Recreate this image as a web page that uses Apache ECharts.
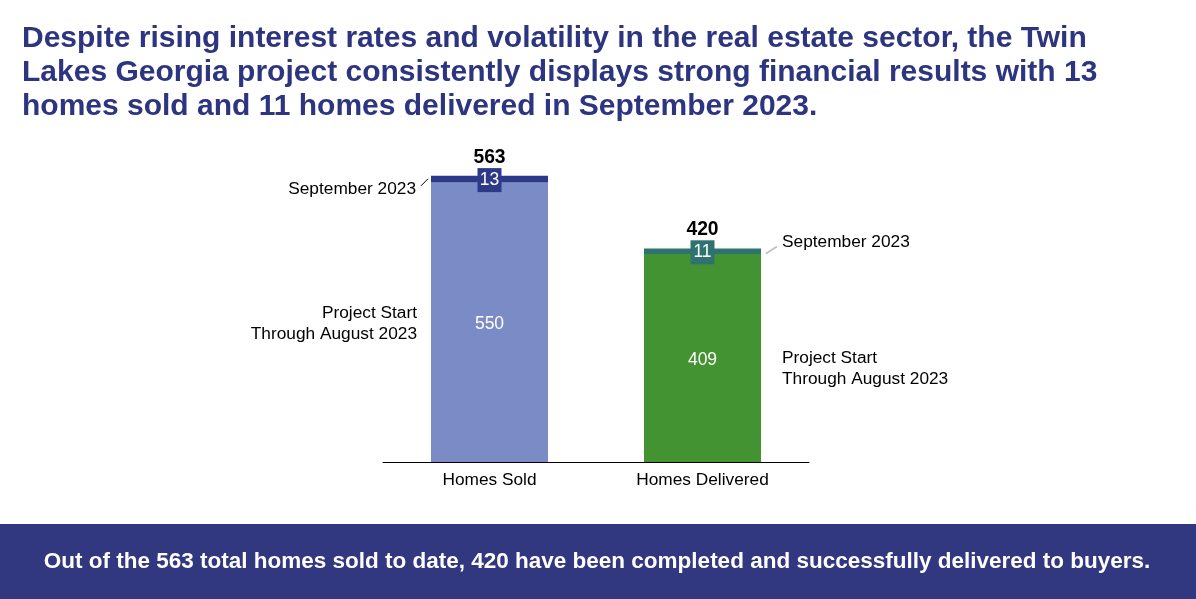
<!DOCTYPE html>
<html><head><meta charset="utf-8">
<script src="https://cdn.jsdelivr.net/npm/echarts@6/dist/echarts.min.js"></script>
<style>html,body{margin:0;padding:0;background:#fff}#c{width:1196px;height:599px}</style>
</head><body><div id="c"></div>
<script>
const categories = ['Homes Sold', 'Homes Delivered'];
const throughAugust = [550, 409];
const september = [13, 11];
const seriesNames = ['Project Start\nThrough August 2023', 'September 2023'];
const titleText = 'Despite rising interest rates and volatility in the real estate sector, the Twin\nLakes Georgia project consistently displays strong financial results with 13\nhomes sold and 11 homes delivered in September 2023.';
const footerText = 'Out of the 563 total homes sold to date, 420 have been completed and successfully delivered to buyers.';

const baseColors = ['#7B8BC6', '#449333'];
const topColors = ['#2E3A87', '#2E7370'];
const totals = throughAugust.map((v, i) => v + september[i]);
const FONT = '"Liberation Sans", Arial, sans-serif';
const FS = 17.3;

const chart = echarts.init(document.getElementById('c'));
const option = {
  animation: false,
  textStyle: { fontFamily: FONT },
  title: {
    text: titleText, left: 17, top: 17,
    textStyle: { fontFamily: FONT, fontSize: 30, fontWeight: 'bold', color: '#2E3580', lineHeight: 34 }
  },
  grid: { left: 383, right: 387, top: 157, bottom: 137 },
  xAxis: {
    type: 'category', data: categories,
    axisLine: { lineStyle: { color: '#000', width: 1 } },
    axisTick: { show: false },
    axisLabel: { color: '#000', fontSize: FS, margin: 10, fontFamily: FONT }
  },
  yAxis: { type: 'value', min: 0, max: 600, show: false, splitLine: { show: false } },
  series: [
    {
      name: seriesNames[0], type: 'bar', stack: 't', barWidth: 117,
      data: throughAugust.map((v, i) => ({ value: v, itemStyle: { color: baseColors[i] } })),
      label: { show: true, position: 'inside', color: '#fff', fontSize: 17.5, fontFamily: FONT, offset: [0, 2] }
    },
    {
      name: seriesNames[1], type: 'bar', stack: 't', barWidth: 117,
      data: september.map((v, i) => ({
        value: v, itemStyle: { color: topColors[i] },
        label: { backgroundColor: topColors[i] }
      })),
      label: {
        show: true, position: 'inside', color: '#fff', fontSize: 17.5, fontFamily: FONT,
        padding: [4, 3, 2, 3], width: 18, align: 'center', offset: [0, 1]
      }
    },
    {
      name: 'total', type: 'bar', stack: 't', barWidth: 117,
      data: totals.map(() => 0),
      label: {
        show: true, position: 'top', distance: 9, color: '#000', fontSize: 19.3, fontWeight: 'bold', fontFamily: FONT,
        formatter: p => totals[p.dataIndex]
      }
    }
  ]
};
chart.setOption(option);

// annotations positioned from the chart's own scales
const p0top = chart.convertToPixel({ gridIndex: 0 }, [0, totals[0]]);
const p0mid = chart.convertToPixel({ gridIndex: 0 }, [0, throughAugust[0] * 0.5]);
const p1top = chart.convertToPixel({ gridIndex: 0 }, [1, totals[1]]);
const p1mid = chart.convertToPixel({ gridIndex: 0 }, [1, throughAugust[1] * 0.5]);
const half = 117 / 2;
const L0 = p0top[0] - half, R1 = p1top[0] + half;
const ts = { fontFamily: FONT, fontSize: FS, fill: '#000', lineHeight: 21 };

chart.setOption({
  graphic: [
    { type: 'rect', shape: { x: 0, y: 524, width: 1196, height: 75 }, style: { fill: '#313880' }, z: 0 },
    { type: 'text', x: 597, y: 562, style: { text: footerText, fill: '#fff', font: 'bold 22.5px ' + FONT, align: 'center', verticalAlign: 'middle' } },
    // left bar annotations
    { type: 'text', x: L0 - 15, y: p0top[1] + 13, style: Object.assign({}, ts, { text: seriesNames[1], align: 'right', verticalAlign: 'middle' }) },
    { type: 'line', shape: { x1: L0 - 10, y1: p0top[1] + 10, x2: L0 - 3, y2: p0top[1] + 3 }, style: { stroke: '#000', lineWidth: 1 } },
    { type: 'text', x: L0 - 14, y: p0mid[1] + 2, style: Object.assign({}, ts, { text: seriesNames[0], align: 'right', verticalAlign: 'middle' }) },
    // right bar annotations
    { type: 'text', x: R1 + 21, y: p1top[1] - 6, style: Object.assign({}, ts, { text: seriesNames[1], align: 'left', verticalAlign: 'middle' }) },
    { type: 'line', shape: { x1: R1 + 5, y1: p1top[1] + 5, x2: R1 + 16, y2: p1top[1] - 2 }, style: { stroke: '#BDBDBD', lineWidth: 1.5 } },
    { type: 'text', x: R1 + 21, y: p1mid[1] + 11, style: Object.assign({}, ts, { text: seriesNames[0], align: 'left', verticalAlign: 'middle' }) }
  ]
});
</script></body></html>
